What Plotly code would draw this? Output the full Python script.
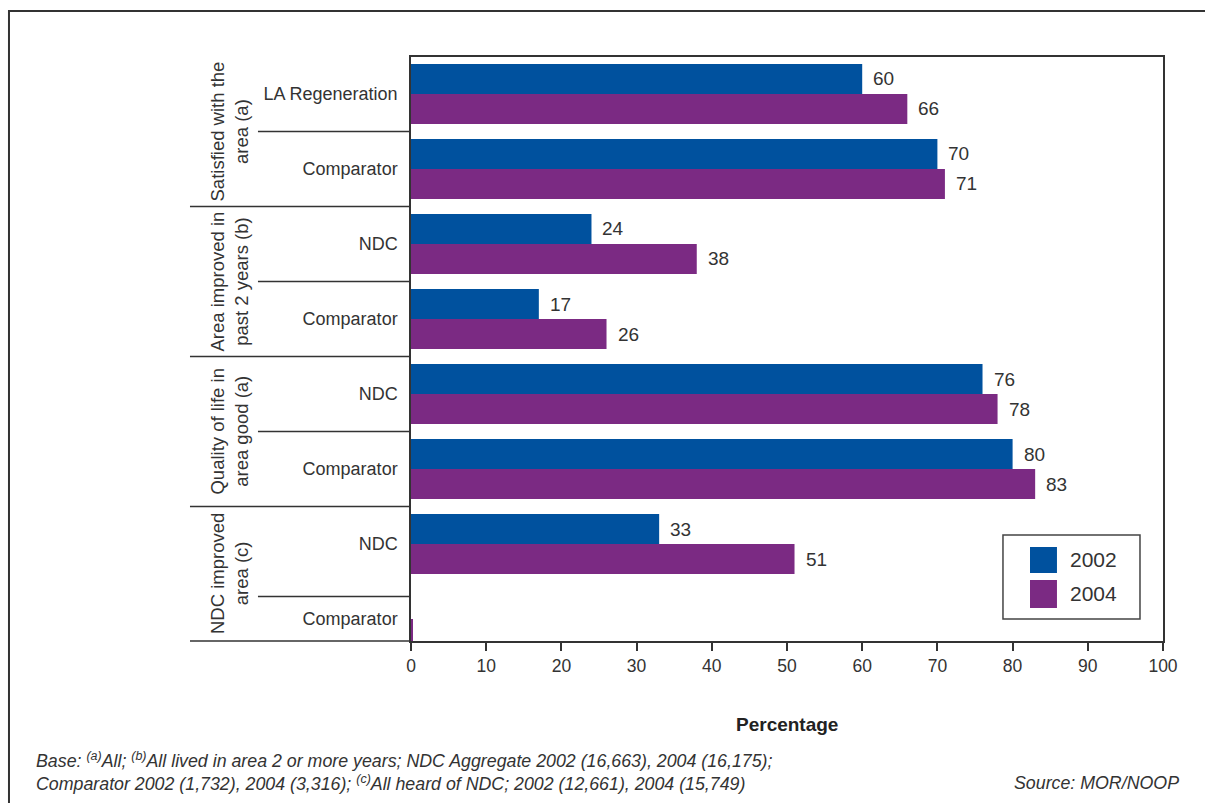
import plotly.graph_objects as go

# Survey items (one row per bar pair), top to bottom
categories = ["LA Regeneration", "Comparator", "NDC", "Comparator",
              "NDC", "Comparator", "NDC", "Comparator"]
groups = ["Satisfied with the<br>area (a)", "Area improved in<br>past 2 years (b)",
          "Quality of life in<br>area good (a)", "NDC improved<br>area (c)"]
values_2002 = [60, 70, 24, 17, 76, 80, 33, None]
values_2004 = [66, 71, 38, 26, 78, 83, 51, 0.25]
labels_2002 = ["60", "70", "24", "17", "76", "80", "33", ""]
labels_2004 = ["66", "71", "38", "26", "78", "83", "51", ""]
x_ticks = [0, 10, 20, 30, 40, 50, 60, 70, 80, 90, 100]

BLUE = "#00519E"
PURPLE = "#7B2A83"
INK = "#333333"
FONT = "Liberation Sans"

positions = list(range(len(categories)))

fig = go.Figure()
fig.add_trace(go.Bar(y=positions, x=values_2002, orientation="h", name="2002",
                     marker=dict(color=BLUE, line=dict(width=0)), showlegend=False))
fig.add_trace(go.Bar(y=positions, x=values_2004, orientation="h", name="2004",
                     marker=dict(color=PURPLE, line=dict(width=0)), showlegend=False))

annotations = []
# value labels next to each bar end
for i, (v, t) in enumerate(zip(values_2002, labels_2002)):
    if t:
        annotations.append(dict(x=v, y=i - 0.2, xref="x", yref="y", text=t,
                                showarrow=False, xanchor="left", yanchor="middle",
                                xshift=9, font=dict(size=19, color=INK, family=FONT)))
for i, (v, t) in enumerate(zip(values_2004, labels_2004)):
    if t:
        annotations.append(dict(x=v, y=i + 0.2, xref="x", yref="y", text=t,
                                showarrow=False, xanchor="left", yanchor="middle",
                                xshift=9, font=dict(size=19, color=INK, family=FONT)))

# rotated group titles
group_centres = [0.5, 2.5, 4.5, 6.4]
for g, yc in zip(groups, group_centres):
    annotations.append(dict(x=-0.242, y=yc, xref="paper", yref="y", text=g,
                            showarrow=False, textangle=-90, xanchor="center",
                            yanchor="middle",
                            font=dict(size=18.5, color=INK, family=FONT)))

# axis title
annotations.append(dict(x=0.5, y=-0.1438, xref="paper", yref="paper",
                        text="<b>Percentage</b>", showarrow=False,
                        xanchor="center", yanchor="middle",
                        font=dict(size=19, color="#222222", family=FONT)))

# footnotes
foot1 = ("<i>Base: <sup>(a)</sup>All; <sup>(b)</sup>All lived in area 2 or more years; "
         "NDC Aggregate 2002 (16,663), 2004 (16,175);</i>")
foot2 = ("<i>Comparator 2002 (1,732), 2004 (3,316); <sup>(c)</sup>All heard of NDC; "
         "2002 (12,661), 2004 (15,749)</i>")
annotations.append(dict(x=-0.5013, y=-0.2038, xref="paper", yref="paper", text=foot1,
                        showarrow=False, xanchor="left", yanchor="middle",
                        font=dict(size=17.8, color=INK, family=FONT)))
annotations.append(dict(x=-0.5013, y=-0.2432, xref="paper", yref="paper", text=foot2,
                        showarrow=False, xanchor="left", yanchor="middle",
                        font=dict(size=17.8, color=INK, family=FONT)))
annotations.append(dict(x=1.0246, y=-0.2432, xref="paper", yref="paper",
                        text="<i>Source: MOR/NOOP</i>", showarrow=False,
                        xanchor="right", yanchor="middle",
                        font=dict(size=17.8, color=INK, family=FONT)))

# legend entries
annotations.append(dict(x=0.874, y=0.1387, xref="paper", yref="paper", text="2002",
                        showarrow=False, xanchor="left", yanchor="middle",
                        font=dict(size=21, color=INK, family=FONT)))
annotations.append(dict(x=0.874, y=0.0805, xref="paper", yref="paper", text="2004",
                        showarrow=False, xanchor="left", yanchor="middle",
                        font=dict(size=21, color=INK, family=FONT)))

shapes = []
line_style = dict(color=INK, width=1.5)
# separators between items and between groups on the label side
for yv in [0.5, 2.5, 4.5, 6.7]:
    shapes.append(dict(type="line", xref="paper", yref="y", x0=-0.2035, x1=0,
                       y0=yv, y1=yv, line=line_style))
for yv in [1.5, 3.5, 5.5]:
    shapes.append(dict(type="line", xref="paper", yref="y", x0=-0.2939, x1=0,
                       y0=yv, y1=yv, line=line_style))
shapes.append(dict(type="line", xref="paper", yref="paper", x0=-0.2939, x1=0,
                   y0=0, y1=0, line=line_style))

# legend box and swatches
shapes.append(dict(type="rect", xref="paper", yref="paper", x0=0.7872, x1=0.9694,
                   y0=0.0377, y1=0.1815, line=dict(color="#444444", width=1.5),
                   fillcolor="white"))
shapes.append(dict(type="rect", xref="paper", yref="paper", x0=0.8231, x1=0.8590,
                   y0=0.1164, y1=0.1610, line=dict(width=0), fillcolor=BLUE))
shapes.append(dict(type="rect", xref="paper", yref="paper", x0=0.8231, x1=0.8590,
                   y0=0.0565, y1=0.1045, line=dict(width=0), fillcolor=PURPLE))

# outer frame
shapes.append(dict(type="rect", xref="paper", yref="paper", x0=-0.5346, x1=1.2,
                   y0=-0.5, y1=1.0788, line=dict(color=INK, width=2),
                   fillcolor="rgba(0,0,0,0)"))

fig.update_layout(
    width=1205, height=803,
    margin=dict(l=411, r=42, t=57, b=162, pad=0),
    paper_bgcolor="white", plot_bgcolor="white",
    barmode="group", bargap=0.2, bargroupgap=0,
    showlegend=False,
    annotations=annotations, shapes=shapes,
    font=dict(family=FONT, color=INK),
)
fig.update_xaxes(range=[0, 100], tickvals=x_ticks, ticks="outside", ticklen=8,
                 tickwidth=1.5, tickcolor=INK, showgrid=False, zeroline=False,
                 showline=True, linecolor=INK, linewidth=1.5, mirror=True,
                 tickfont=dict(size=17.5, color=INK, family=FONT), fixedrange=True)
fig.update_yaxes(range=[7.293, -0.493], tickvals=positions, ticktext=categories,
                 ticks="", showgrid=False, zeroline=False, showline=True,
                 linecolor=INK, linewidth=1.5, mirror=True, ticklabelstandoff=8,
                 tickfont=dict(size=18, color=INK, family=FONT))

fig.write_html("out.html")
